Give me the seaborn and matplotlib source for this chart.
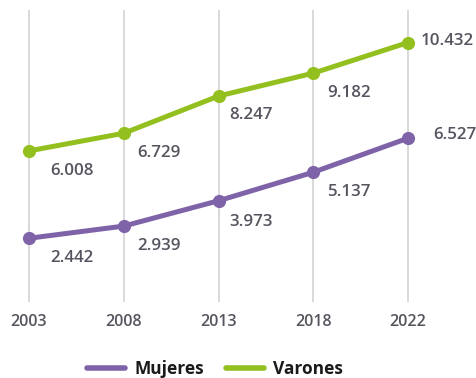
import matplotlib
matplotlib.use("Agg")
import matplotlib.pyplot as plt
from matplotlib.lines import Line2D
import seaborn as sns
import pandas as pd

years = ["2003", "2008", "2013", "2018", "2022"]
mujeres = [2.442, 2.939, 3.973, 5.137, 6.527]
varones = [6.008, 6.729, 8.247, 9.182, 10.432]
series_names = ["Mujeres", "Varones"]
colors = {"Mujeres": "#7f63a9", "Varones": "#93c01f"}

def fmt(v):
    return f"{v:.3f}"

rows = []
for name, vals in zip(series_names, [mujeres, varones]):
    for i, v in enumerate(vals):
        rows.append({"pos": i, "year": years[i], "value": v, "serie": name})
df = pd.DataFrame(rows)

sns.set_theme(style="white")
plt.rcParams["font.family"] = ["Open Sans", "DejaVu Sans"]

fig = plt.figure(figsize=(4.77, 3.78), dpi=100)
W, H = 477, 378
top_px, bot_px = 10, 302
ax = fig.add_axes([0, 1 - bot_px / H, 1, (bot_px - top_px) / H])

sns.lineplot(data=df, x="pos", y="value", hue="serie", palette=colors,
             linewidth=3.6, marker="o", markersize=9.5, markeredgewidth=0,
             legend=False, ax=ax, zorder=3)

ax.set_xlim(-0.306, 4.728)
ax.set_ylim(-0.16, 11.76)
ax.set_yticks([])
ax.set_xticks(range(len(years)))
ax.set_xticklabels(years)
ax.tick_params(axis="x", length=0, pad=9, labelsize=11.5, labelcolor="#555560")
for lab in ax.get_xticklabels():
    lab.set_fontweight("semibold")
ax.grid(axis="x", color="#d9d9d9", linewidth=1.4)
ax.grid(axis="y", visible=False)
for s in ax.spines.values():
    s.set_visible(False)
ax.set_xlabel("")
ax.set_ylabel("")

label_kw = dict(textcoords="offset pixels", color="#555560", fontsize=12.2,
                fontweight="semibold", va="center", ha="left")
offsets_m = [(21, -20), (13, -20), (11, -21), (14, -20), (25, 3)]
offsets_v = [(21, -20), (13, -20), (11, -19), (14, -20), (13, 2)]
for i in range(len(years)):
    ax.annotate(fmt(mujeres[i]), (i, mujeres[i]), xytext=offsets_m[i], **label_kw)
    ax.annotate(fmt(varones[i]), (i, varones[i]), xytext=offsets_v[i], **label_kw)

handles = [Line2D([0], [0], color=colors[n], linewidth=4) for n in series_names]
fig.legend(handles, series_names, loc="center", bbox_to_anchor=(215 / W, 1 - 369 / H),
           ncol=2, frameon=False, handlelength=2.2, columnspacing=1.26, handletextpad=0.52,
           prop={"size": 12.5, "weight": "bold"}, labelcolor="#1a1a1a")

fig.savefig("out.png", dpi=100)
